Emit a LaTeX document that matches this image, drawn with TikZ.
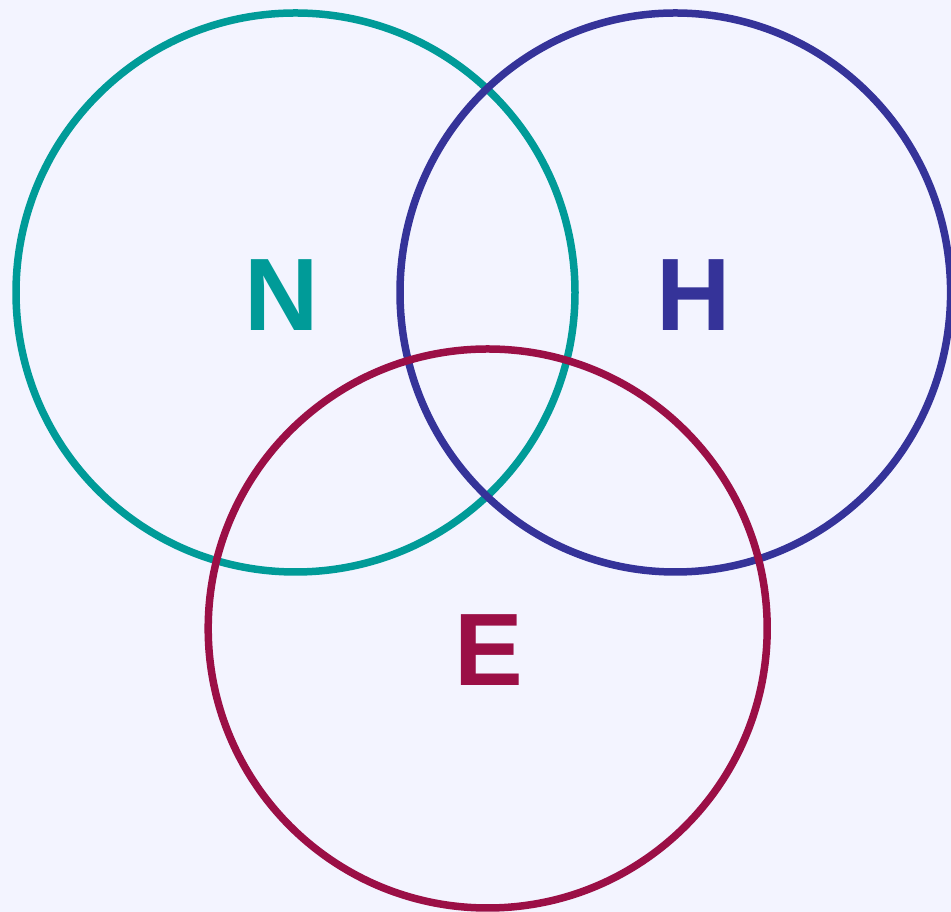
\documentclass[tikz,border=0pt]{standalone}
\usepackage{fontspec}
\setmainfont{Liberation Sans}
\definecolor{bgc}{RGB}{243,244,255}
\definecolor{tealc}{RGB}{0,155,152}
\definecolor{bluec}{RGB}{53,51,153}
\definecolor{redc}{RGB}{155,15,70}
\tikzset{
  ring/.style={line width=7.5pt},
  lbl/.style={inner sep=0pt, anchor=base, font=\fontsize{103}{103}\selectfont\bfseries}
}
\begin{document}
\begin{tikzpicture}[x=1pt,y=1pt]
\fill[bgc] (0,0) rectangle (951,912);
\useasboundingbox (0,0) rectangle (951,912);
\draw[ring, tealc] (295.5,619.5) circle [radius=279.5];
\draw[ring, bluec] (675.3,619.5) ellipse [x radius=275.3, y radius=279.5];
\draw[ring, redc] (487.7,283.5) circle [radius=279.5];
\node[lbl, text=tealc] (n) at (281.5,581) {N};
\node[lbl, text=bluec] (h) at (693.5,581) {H};
\node[lbl, text=redc] (e) at (489,226) {E};
\end{tikzpicture}
\end{document}
